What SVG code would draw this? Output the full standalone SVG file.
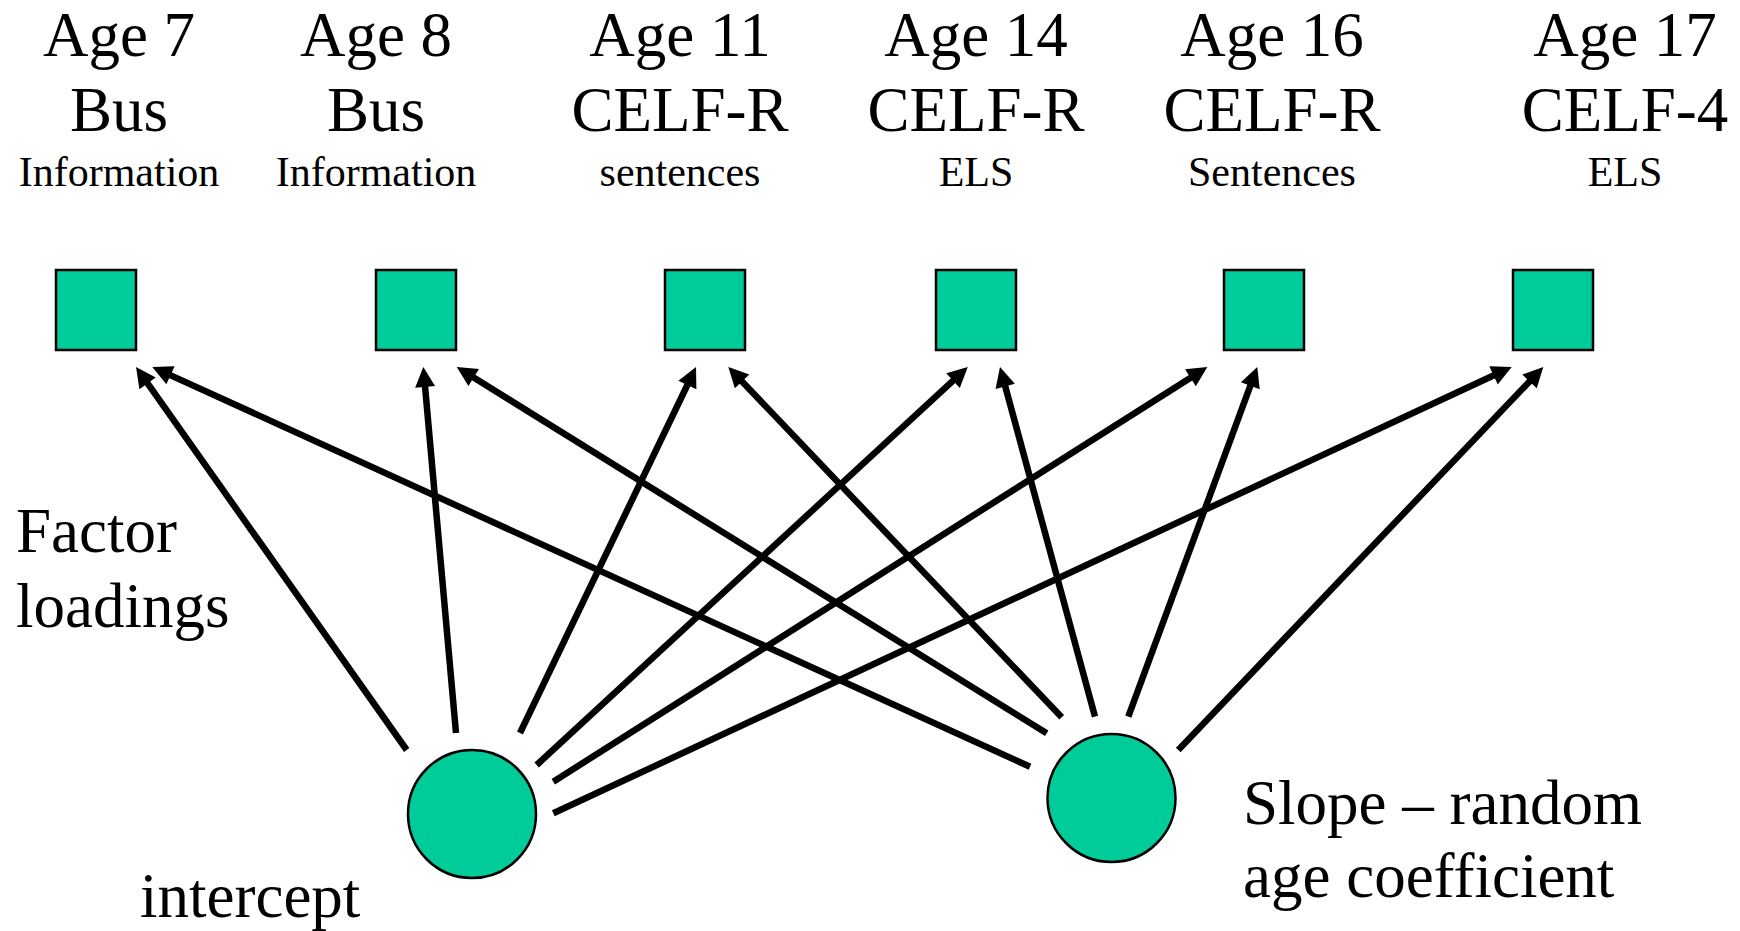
<svg xmlns="http://www.w3.org/2000/svg" width="1740" height="931" viewBox="0 0 1740 931">
<style>
.big{font-family:"Liberation Serif","Times New Roman",serif;font-size:63px;fill:#000}
.sm{font-family:"Liberation Serif","Times New Roman",serif;font-size:42px;fill:#000}
.box{fill:#00CC99;stroke:#000;stroke-width:2.5}
.conn line{stroke:#000;stroke-width:6.5;marker-end:url(#ah)}
</style>
<defs>
<marker id="ah" markerUnits="userSpaceOnUse" markerWidth="22" markerHeight="22" refX="10" refY="10" orient="auto" overflow="visible">
<path d="M0,0 L20,10 L0,20 Z" fill="#000"/>
</marker>
</defs>
<rect width="1740" height="931" fill="#fff"/>
<g id="labels-top" text-anchor="middle">
<text class="big" x="119" y="56">Age 7</text>
<text class="big" x="119" y="131">Bus</text>
<text class="sm" x="119" y="186">Information</text>
<text class="big" x="376" y="56">Age 8</text>
<text class="big" x="376" y="131">Bus</text>
<text class="sm" x="376" y="186">Information</text>
<text class="big" x="680" y="56">Age 11</text>
<text class="big" x="680" y="131">CELF-R</text>
<text class="sm" x="680" y="186">sentences</text>
<text class="big" x="976" y="56">Age 14</text>
<text class="big" x="976" y="131">CELF-R</text>
<text class="sm" x="976" y="186">ELS</text>
<text class="big" x="1272" y="56">Age 16</text>
<text class="big" x="1272" y="131">CELF-R</text>
<text class="sm" x="1272" y="186">Sentences</text>
<text class="big" x="1625" y="56">Age 17</text>
<text class="big" x="1625" y="131">CELF-4</text>
<text class="sm" x="1625" y="186">ELS</text>
</g>
<g id="m1"><rect class="box" x="56" y="270" width="80" height="80"/></g>
<g id="m2"><rect class="box" x="376" y="270" width="80" height="80"/></g>
<g id="m3"><rect class="box" x="665" y="270" width="80" height="80"/></g>
<g id="m4"><rect class="box" x="936" y="270" width="80" height="80"/></g>
<g id="m5"><rect class="box" x="1224" y="270" width="80" height="80"/></g>
<g id="m6"><rect class="box" x="1513" y="270" width="80" height="80"/></g>
<g id="intercept"><circle class="box" cx="472" cy="814" r="64"/></g>
<g id="slope"><circle class="box" cx="1111.5" cy="798" r="64"/></g>
<g id="connectors" class="conn">
<line x1="406.7" y1="750" x2="141.8" y2="375.2"/>
<line x1="456" y1="733" x2="424.2" y2="377"/>
<line x1="520" y1="733" x2="691.7" y2="376"/>
<line x1="536.7" y1="765" x2="960.4" y2="373.8"/>
<line x1="553.3" y1="781.7" x2="1198.9" y2="372.4"/>
<line x1="553.3" y1="813.3" x2="1502.6" y2="371.2"/>
<line x1="1030" y1="766.7" x2="161.4" y2="371.1"/>
<line x1="1046.7" y1="733.3" x2="465.2" y2="372.3"/>
<line x1="1061.7" y1="717.3" x2="735.2" y2="374.2"/>
<line x1="1095" y1="716.7" x2="1002.6" y2="376.7"/>
<line x1="1128.3" y1="716.7" x2="1253.8" y2="376.4"/>
<line x1="1178.3" y1="750" x2="1536.4" y2="374.2"/>
</g>
<g id="labels">
<text class="big" x="16" y="552">Factor</text>
<text class="big" x="16" y="627">loadings</text>
<text class="big" x="140" y="917">intercept</text>
<text class="big" x="1243" y="824">Slope – random</text>
<text class="big" x="1243" y="897">age coefficient</text>
</g>
</svg>
